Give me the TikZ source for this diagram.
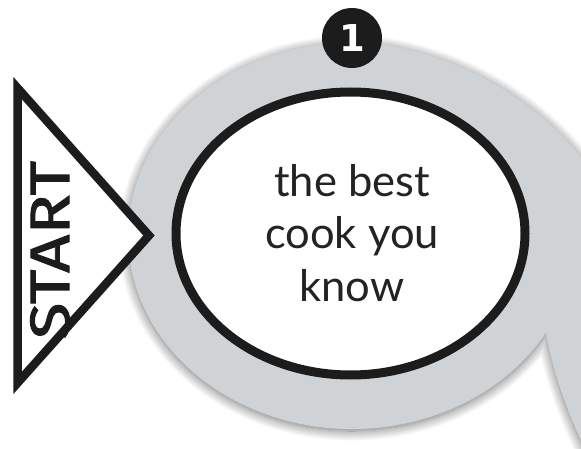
\documentclass[tikz,border=0pt]{standalone}
\usepackage{fontspec}
\usepackage{graphicx}
\setmainfont{Lato}
\newfontfamily\startfont[FakeBold=1.6]{Fira Sans}
\newfontfamily\badgefont{DejaVu Sans}
\usetikzlibrary{shapes.geometric,shadows.blur,calc}
\definecolor{track}{RGB}{208,211,214}
\definecolor{ink}{RGB}{28,28,28}
\definecolor{txt}{RGB}{35,35,35}
\begin{document}
\begin{tikzpicture}[x=1pt,y=-1pt,
  trackshape/.style={fill=track, blur shadow={shadow xshift=0pt, shadow yshift=-2pt, shadow blur radius=10pt, shadow blur steps=14, shadow opacity=55}},
  bubble/.style={ellipse, draw=ink, line width=9pt, fill=white, minimum width=349pt, minimum height=283pt, inner sep=0pt, outer sep=0pt},
  startbox/.style={draw=ink, line width=8.5pt, fill=white, line join=miter},
  badge/.style={circle, fill=ink, minimum size=60pt, inner sep=0pt, text=white, font=\badgefont\bfseries\fontsize{37}{37}\selectfont},
  cooktext/.style={align=center, text=txt, inner sep=0pt, font=\fontsize{43.5}{52.5}\selectfont},
  starttext/.style={rotate=90, text=ink, inner sep=0pt, font=\startfont\fontsize{50}{50}\selectfont}]
\useasboundingbox (0,0) rectangle (581,449);
% grey track with its tail
\coordinate (notch) at ($(352,236)+(30:224 and 193)$);
\path[trackshape] (notch) arc[start angle=30, end angle=280, x radius=224, y radius=193]
  .. controls (455,58) and (525,90) .. (581,157)
  .. controls (605,190) and (620,240) .. (625,300)
  -- (625,480) -- (600,480) -- (590,458)
  .. controls (572,425) and (553,375) .. (notch) -- cycle;
% start arrow
\coordinate (tl) at (17.5,88);
\coordinate (tip) at (149,235.5);
\coordinate (bl) at (17.5,383);
\draw[startbox] (tl) -- (tip) -- (bl) -- cycle;
\node[starttext] (start) at (50,250) {\resizebox{178pt}{39pt}{START}};
% bubble
\node[bubble] (bubble) at (350.5,233.5) {};
\node[cooktext, anchor=south] (cook) at (352,302) {the best\\cook you\\know};
% badge
\node[badge] (one) at (352,38) {1};
\end{tikzpicture}
\end{document}
